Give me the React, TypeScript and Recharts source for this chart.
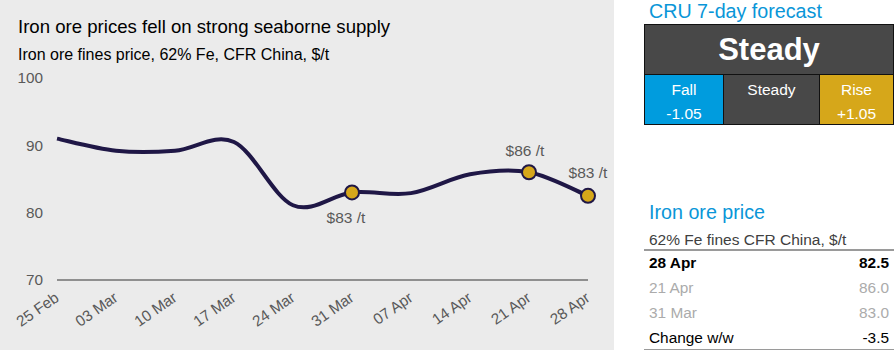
import React from "react";
import { LineChart, Line, XAxis, YAxis } from "recharts";

const dates = ["25 Feb", "03 Mar", "10 Mar", "17 Mar", "24 Mar", "31 Mar", "07 Apr", "14 Apr", "21 Apr", "28 Apr"];
const prices = [91.0, 89.2, 89.2, 90.5, 81.1, 83.0, 82.9, 85.7, 86.0, 82.5];
const callouts = ["", "", "", "", "", "$83 /t", "", "", "$86 /t", "$83 /t"];
const yTicks = [70, 80, 90, 100];

const forecastTitle = "CRU 7-day forecast";
const forecastCall = "Steady";
const forecastCells = [
  { label: "Fall", value: "-1.05" },
  { label: "Steady", value: "" },
  { label: "Rise", value: "+1.05" },
];

const tableTitle = "Iron ore price";
const tableSubtitle = "62% Fe fines CFR China, $/t";
const tableRows = [
  { label: "28 Apr", value: "82.5" },
  { label: "21 Apr", value: "86.0" },
  { label: "31 Mar", value: "83.0" },
  { label: "Change w/w", value: "-3.5" },
];

const chartTitle = "Iron ore prices fell on strong seaborne supply";
const chartSubtitle = "Iron ore fines price, 62% Fe, CFR China, $/t";

const data = dates.map((d, i) => ({ date: d, price: prices[i], callout: callouts[i] }));

const FONT = "'Liberation Sans', Arial, sans-serif";
const NAVY = "#1f1746";
const GOLD = "#d6a71a";
const BLUE = "#0a96d8";

// Uniform Catmull-Rom (Excel-like smoothed line)
function smoothCurve(context: any) {
  let xs: number[] = [];
  let ys: number[] = [];
  return {
    areaStart() {},
    areaEnd() {},
    lineStart() {
      xs = [];
      ys = [];
    },
    lineEnd() {
      const n = xs.length;
      if (!n) return;
      context.moveTo(xs[0], ys[0]);
      for (let i = 0; i < n - 1; i++) {
        const a = Math.max(i - 1, 0);
        const d = Math.min(i + 2, n - 1);
        context.bezierCurveTo(
          xs[i] + (xs[i + 1] - xs[a]) / 6,
          ys[i] + (ys[i + 1] - ys[a]) / 6,
          xs[i + 1] - (xs[d] - xs[i]) / 6,
          ys[i + 1] - (ys[d] - ys[i]) / 6,
          xs[i + 1],
          ys[i + 1]
        );
      }
    },
    point(x: number, y: number) {
      xs.push(+x);
      ys.push(+y);
    },
  };
}

const calloutPlacement: Record<number, { dx: number; dy: number }> = {
  5: { dx: -6, dy: 31 },
  8: { dx: -4, dy: -16 },
  9: { dx: 0, dy: -18 },
};

const renderDot = (props: any) => {
  const { cx, cy, index, payload } = props;
  if (!payload || !payload.callout) return <g key={`d${index}`} />;
  const p = calloutPlacement[index] || { dx: 0, dy: -18 };
  return (
    <g key={`d${index}`}>
      <circle cx={cx} cy={cy} r={7} fill={GOLD} stroke={NAVY} strokeWidth={2} />
      <text x={cx + p.dx} y={cy + p.dy} textAnchor="middle" fontSize={15.5} fill="#595959" fontFamily={FONT}>
        {payload.callout}
      </text>
    </g>
  );
};

const XTick = (props: any) => {
  const { x, y, payload } = props;
  const ax = x + 3;
  const ay = y + 20;
  return (
    <text
      x={ax}
      y={ay}
      textAnchor="end"
      fontSize={15.3}
      fill="#595959"
      fontFamily={FONT}
      transform={`rotate(-35 ${ax} ${ay})`}
    >
      {payload.value}
    </text>
  );
};

export default function App() {
  return (
    <div style={{ position: "absolute", left: 0, top: 0, width: 896, height: 356, background: "#fff", fontFamily: FONT }}>
      <div style={{ position: "absolute", left: 0, top: 0, width: 614, height: 350, background: "#ebebeb" }}>
        <LineChart width={614} height={350} data={data} margin={{ top: 78, right: 26, bottom: 0, left: 0 }}>
          <XAxis
            dataKey="date"
            tick={<XTick />}
            tickLine={false}
            tickSize={0}
            tickMargin={0}
            interval={0}
            height={70}
            axisLine={{ stroke: "#8f8f8f", strokeWidth: 2 }}
          />
          <YAxis
            domain={[70, 100]}
            ticks={yTicks}
            width={57}
            axisLine={false}
            tickLine={false}
            tickSize={0}
            tickMargin={14}
            tick={{ fontSize: 15.3, fill: "#595959", fontFamily: FONT }}
          />
          <Line
            dataKey="price"
            type={smoothCurve as any}
            stroke={NAVY}
            strokeWidth={4}
            dot={renderDot}
            activeDot={false}
            isAnimationActive={false}
          />
        </LineChart>
      </div>
      <div style={{ position: "absolute", left: 18, top: 17.5, fontSize: 18.6, lineHeight: "18.6px", color: "#000", whiteSpace: "nowrap" }}>
        {chartTitle}
      </div>
      <div style={{ position: "absolute", left: 18, top: 46.5, fontSize: 16, lineHeight: "16px", color: "#000", whiteSpace: "nowrap" }}>
        {chartSubtitle}
      </div>

      {/* Forecast panel */}
      <div style={{ position: "absolute", left: 649, top: 1.5, fontSize: 19.7, lineHeight: "19.7px", color: BLUE, whiteSpace: "nowrap" }}>
        {forecastTitle}
      </div>
      <div style={{ position: "absolute", left: 644, top: 24, width: 250, height: 101, background: "#111" }}>
        <div
          style={{
            position: "absolute",
            left: 1,
            top: 1,
            width: 248,
            height: 49,
            background: "#484848",
            color: "#fff",
            fontWeight: "bold",
            fontSize: 31,
            display: "flex",
            alignItems: "center",
            justifyContent: "center",
          }}
        >
          {forecastCall}
        </div>
        {forecastCells.map((c, i) => {
          const lefts = [1, 80, 176];
          const widths = [78, 95, 73];
          const bgs = ["#009cde", "#484848", "#d6a71a"];
          return (
            <div
              key={i}
              style={{
                position: "absolute",
                left: lefts[i],
                top: 51,
                width: widths[i],
                height: 49,
                background: bgs[i],
                color: "#fff",
                fontSize: 15.5,
                textAlign: "center",
                paddingTop: 3,
                boxSizing: "border-box",
              }}
            >
              <div style={{ lineHeight: "24px" }}>{c.label}</div>
              <div style={{ lineHeight: "24px" }}>{c.value}</div>
            </div>
          );
        })}
      </div>

      {/* Price table */}
      <div style={{ position: "absolute", left: 649, top: 202.5, fontSize: 19.7, lineHeight: "19.7px", color: BLUE, whiteSpace: "nowrap" }}>
        {tableTitle}
      </div>
      <div style={{ position: "absolute", left: 649, top: 232, fontSize: 15.5, lineHeight: "15.5px", color: "#404040", whiteSpace: "nowrap" }}>
        {tableSubtitle}
      </div>
      <div style={{ position: "absolute", left: 644, top: 249, width: 250, height: 1.5, background: "#9a9a9a" }} />
      {tableRows.map((r, i) => {
        const color = i === 0 ? "#000" : i === 3 ? "#000" : "#ababab";
        const weight = i === 0 ? "bold" : "normal";
        return (
          <div
            key={i}
            style={{
              position: "absolute",
              left: 649,
              top: 255 + i * 25,
              width: 240,
              fontSize: 15.4,
              lineHeight: "15.4px",
              color,
              fontWeight: weight as any,
              display: "flex",
              justifyContent: "space-between",
              whiteSpace: "nowrap",
            }}
          >
            <span>{r.label}</span>
            <span>{r.value}</span>
          </div>
        );
      })}
      <div style={{ position: "absolute", left: 644, top: 348.5, width: 250, height: 1.5, background: "#9a9a9a" }} />
    </div>
  );
}
